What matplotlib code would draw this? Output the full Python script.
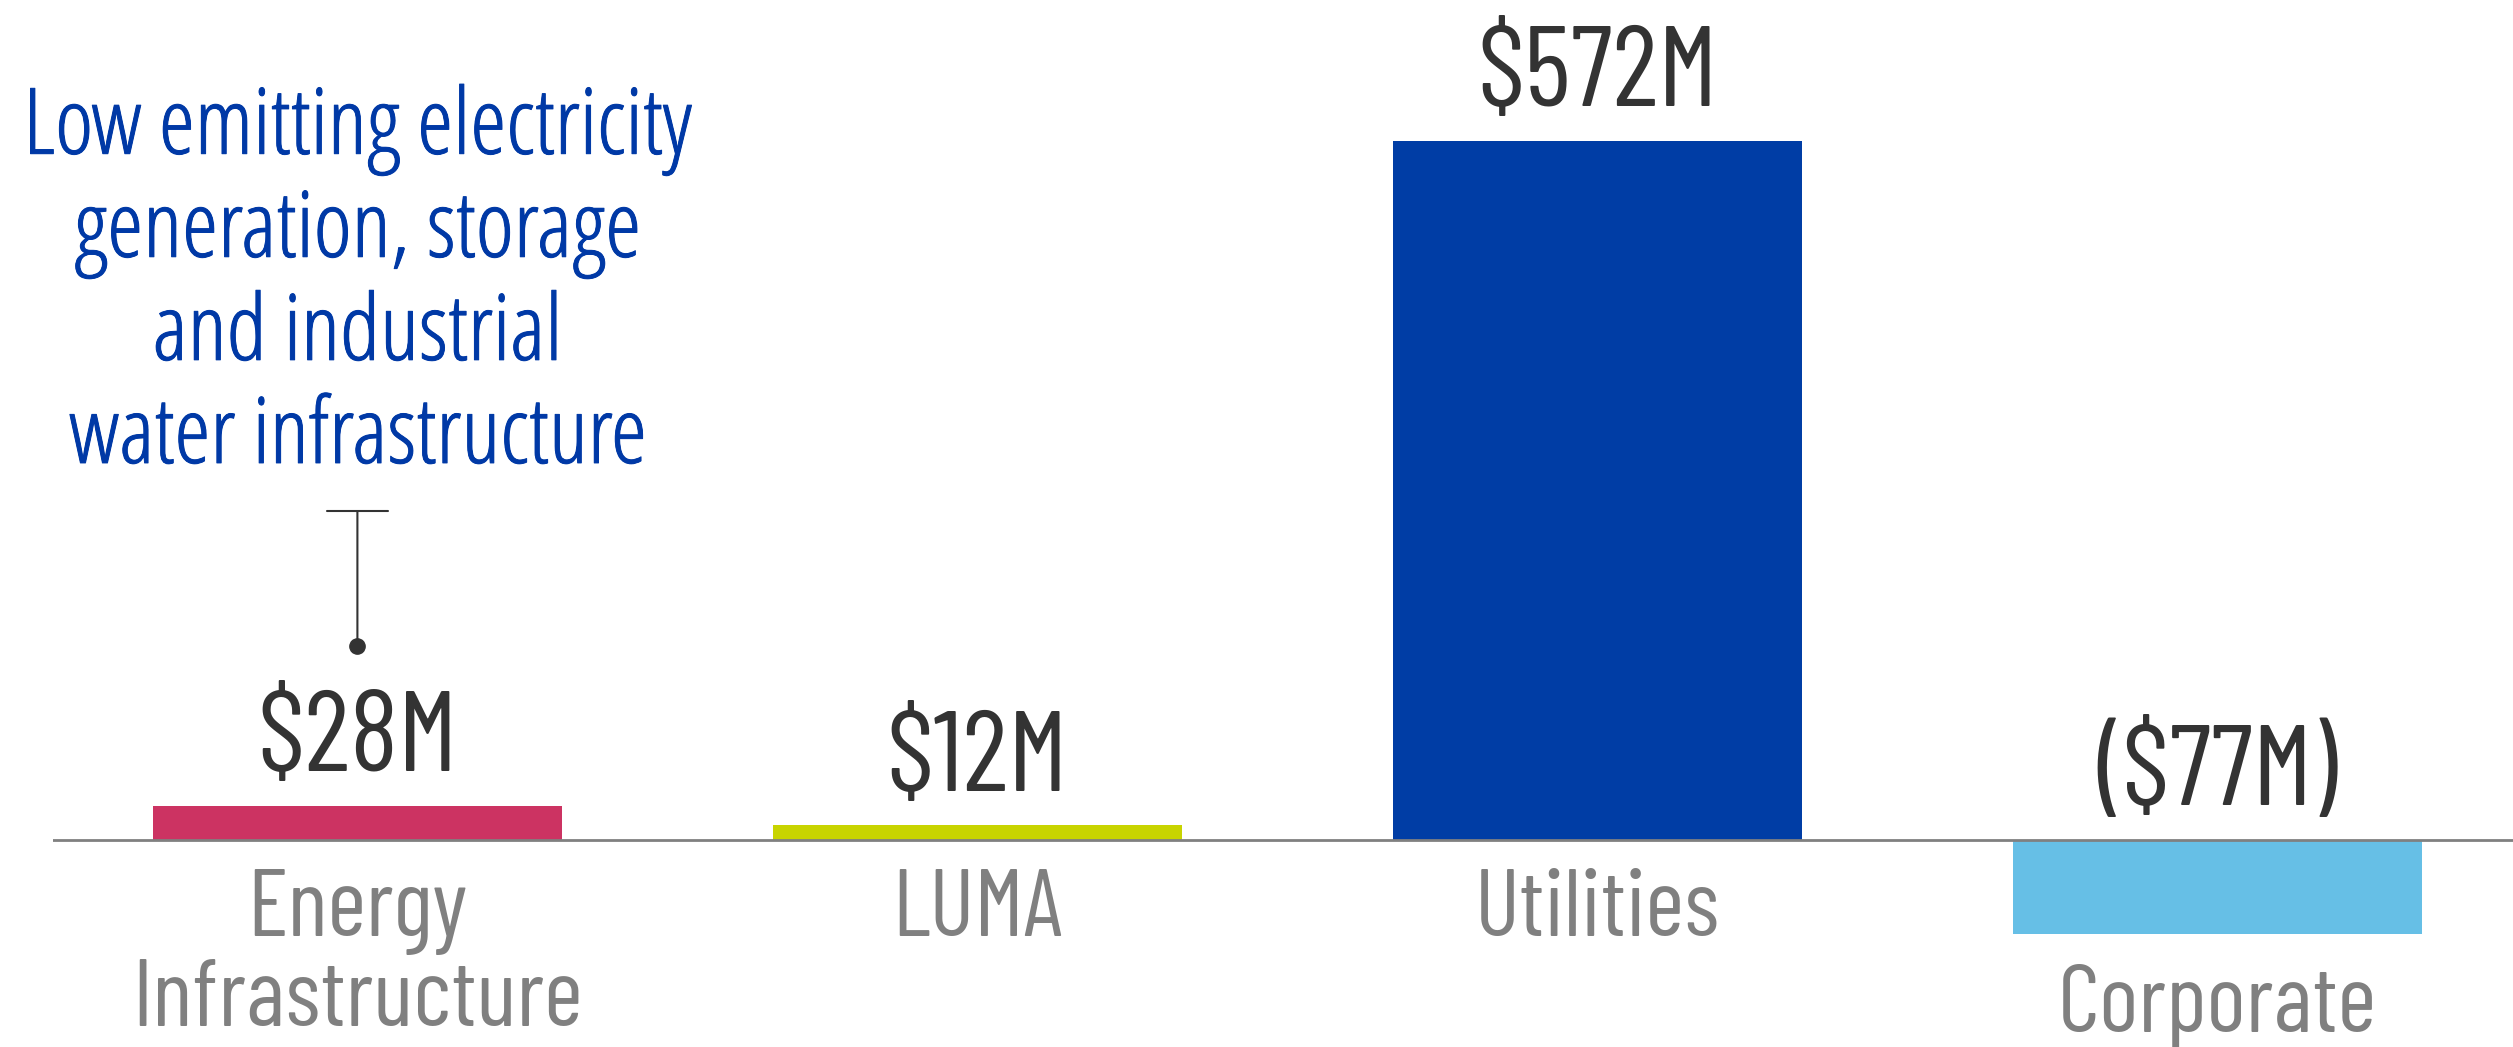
import numpy as np
import matplotlib.pyplot as plt
import matplotlib.patheffects as pe
from matplotlib.transforms import offset_copy

# segment results, $M
segments = ["Energy\nInfrastructure", "LUMA", "Utilities", "Corporate"]
values = [28, 12, 572, -77]
value_labels = ["$28M", "$12M", "$572M", "($77M)"]
colors = ["#CC3362", "#C8D400", "#003DA5", "#66BFE6"]
note = "Low emitting electricity\ngeneration, storage\nand industrial\nwater infrastructure"

din = ['Barlow Condensed', 'Roboto Condensed', 'Liberation Sans Narrow', 'DejaVu Sans']
plt.rcParams['font.family'] = din

fig = plt.figure(figsize=(25.13, 10.47), dpi=100)
ax = fig.add_axes([53 / 2513, 0, 1 - 53 / 2513, 1])
x = np.arange(len(values))

ax.bar(x, values, width=0.66, color=colors, zorder=2)
ax.axhline(0, color="#808080", linewidth=2, zorder=3)
ax.set_xlim(-0.491, 3.477)
ax.set_ylim(-169.4, 687.4)
ax.axis('off')

for xi, v, lbl, seg in zip(x, values, value_labels, segments):
    ax.annotate(lbl, xy=(xi, max(v, 0)), xytext=(0, 25), textcoords='offset points',
                ha='center', va='baseline', fontsize=82, color="#333333")
    ax.annotate(seg, xy=(xi, min(v, 0)), xytext=(0, -21), textcoords='offset points',
                ha='center', va='top', fontsize=68, color="#808080",
                linespacing=1.06)

# callout on the first bar
ax.annotate("", xy=(x[0], values[0]), xytext=(0, 212), textcoords='offset points',
            arrowprops=dict(arrowstyle=']-, widthA=2.2, lengthA=0', shrinkA=0,
                            shrinkB=115, color="#333333", lw=1.5, mutation_scale=10))
ax.plot([x[0]], [values[0]], 'o', color="#333333", markersize=11,
        transform=offset_copy(ax.transData, fig=fig, y=115, units='points'))
ax.annotate(note, xy=(x[0], values[0]), xytext=(0, 231), textcoords='offset points',
            ha='center', va='bottom', fontsize=66, color="#0039A6", linespacing=1.15,
            family=['Open Sans', 'DejaVu Sans'], fontstretch='condensed', fontweight=300,
            path_effects=[pe.withStroke(linewidth=0.7, foreground="#0039A6")])

fig.savefig("out.png", dpi=100)
